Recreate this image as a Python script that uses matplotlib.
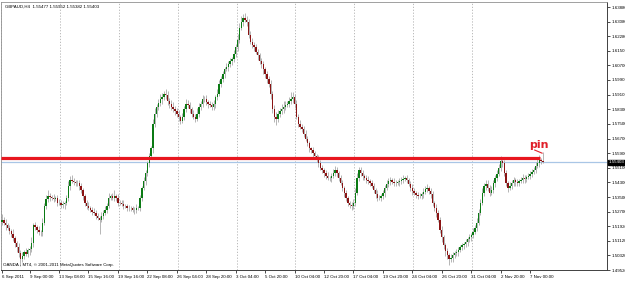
import matplotlib.pyplot as plt
import matplotlib.transforms as mtransforms
import numpy as np

plt.rcParams['font.family'] = ['Liberation Sans', 'DejaVu Sans']

# GBPAUD H4 closes, first visible bar to last
closes = [
    1.5227, 1.5210, 1.5195, 1.5180, 1.5165, 1.5150, 1.5125, 1.5100, 1.5080, 1.5045,
    1.5011, 1.5030, 1.5049, 1.5040, 1.5060, 1.5065, 1.5100, 1.5195, 1.5185, 1.5173,
    1.5157, 1.5160, 1.5211, 1.5303, 1.5340, 1.5357, 1.5350, 1.5346, 1.5340, 1.5346,
    1.5319, 1.5320, 1.5308, 1.5310, 1.5319, 1.5346, 1.5411, 1.5443, 1.5440, 1.5432,
    1.5427, 1.5425, 1.5411, 1.5389, 1.5357, 1.5319, 1.5303, 1.5292, 1.5281, 1.5270,
    1.5265, 1.5249, 1.5238, 1.5227, 1.5249, 1.5265, 1.5281, 1.5303, 1.5346, 1.5357,
    1.5346, 1.5357, 1.5346, 1.5319, 1.5320, 1.5315, 1.5303, 1.5300, 1.5292, 1.5290,
    1.5292, 1.5281, 1.5280, 1.5292, 1.5290, 1.5346, 1.5400, 1.5438, 1.5481, 1.5535,
    1.5573, 1.5616, 1.5751, 1.5805, 1.5843, 1.5865, 1.5886, 1.5897, 1.5913, 1.5908,
    1.5875, 1.5859, 1.5843, 1.5832, 1.5821, 1.5805, 1.5789, 1.5767, 1.5789, 1.5832,
    1.5859, 1.5854, 1.5832, 1.5805, 1.5789, 1.5778, 1.5805, 1.5843, 1.5859, 1.5886,
    1.5886, 1.5870, 1.5859, 1.5854, 1.5843, 1.5859, 1.5897, 1.5913, 1.5967, 1.5994,
    1.6021, 1.6048, 1.6059, 1.6075, 1.6091, 1.6102, 1.6129, 1.6167, 1.6210, 1.6275,
    1.6307, 1.6329, 1.6318, 1.6307, 1.6237, 1.6199, 1.6183, 1.6167, 1.6145, 1.6124,
    1.6091, 1.6075, 1.6048, 1.6021, 1.5994, 1.5967, 1.5913, 1.5832, 1.5789, 1.5778,
    1.5805, 1.5821, 1.5832, 1.5843, 1.5854, 1.5859, 1.5875, 1.5886, 1.5897, 1.5859,
    1.5789, 1.5751, 1.5735, 1.5724, 1.5697, 1.5670, 1.5643, 1.5616, 1.5605, 1.5589,
    1.5573, 1.5562, 1.5535, 1.5508, 1.5497, 1.5481, 1.5465, 1.5454, 1.5454, 1.5465,
    1.5481, 1.5497, 1.5481, 1.5454, 1.5427, 1.5400, 1.5373, 1.5346, 1.5319, 1.5308,
    1.5303, 1.5319, 1.5373, 1.5454, 1.5497, 1.5481, 1.5465, 1.5454, 1.5443, 1.5438,
    1.5427, 1.5411, 1.5389, 1.5367, 1.5346, 1.5346, 1.5357, 1.5373, 1.5400, 1.5421,
    1.5438, 1.5443, 1.5432, 1.5427, 1.5427, 1.5432, 1.5438, 1.5443, 1.5449, 1.5454,
    1.5443, 1.5421, 1.5400, 1.5384, 1.5373, 1.5362, 1.5357, 1.5357, 1.5367, 1.5378,
    1.5394, 1.5400, 1.5384, 1.5367, 1.5319, 1.5292, 1.5265, 1.5227, 1.5173, 1.5130,
    1.5087, 1.5055, 1.5033, 1.5011, 1.5017, 1.5033, 1.5044, 1.5049, 1.5060, 1.5076,
    1.5087, 1.5092, 1.5103, 1.5119, 1.5130, 1.5141, 1.5162, 1.5184, 1.5211, 1.5265,
    1.5319, 1.5373, 1.5411, 1.5421, 1.5400, 1.5373, 1.5389, 1.5427, 1.5454, 1.5476,
    1.5508, 1.5546, 1.5535, 1.5481, 1.5427, 1.5400, 1.5411, 1.5427, 1.5443, 1.5432,
    1.5427, 1.5438, 1.5443, 1.5454, 1.5449, 1.5459, 1.5465, 1.5476, 1.5486, 1.5497,
    1.5519, 1.5535, 1.5551, 1.55477, 1.55403,
]
first_open = 1.5215

# shadow lengths in pips above / below the body
up_wick = [
    30, 15, 20, 12, 18, 10, 25, 15, 12, 20, 15, 20, 10, 25, 12, 18, 30, 15, 20, 12,
    18, 10, 25, 15, 20, 30, 15, 12, 20, 10, 15, 20, 12, 18, 10, 15, 25, 20, 30, 15,
    12, 18, 20, 15, 10, 12, 15, 20, 10, 15, 20, 12, 15, 10, 18, 12, 20, 15, 25, 12,
    15, 30, 10, 20, 12, 15, 18, 10, 12, 15, 10, 12, 15, 20, 10, 18, 12, 20, 15, 10,
    20, 15, 25, 30, 15, 20, 25, 20, 15, 25, 20, 15, 20, 25, 18, 15, 20, 12, 20, 15,
    25, 20, 15, 12, 20, 15, 30, 20, 15, 20, 15, 20, 12, 18, 15, 20, 12, 25, 20, 15,
    20, 15, 25, 20, 18, 15, 25, 20, 30, 25, 30, 20, 25, 20, 15, 18, 20, 15, 20, 12,
    15, 20, 18, 12, 15, 20, 25, 15, 20, 25, 20, 15, 25, 30, 20, 15, 20, 40, 25, 15,
    20, 15, 18, 12, 15, 20, 12, 15, 10, 18, 15, 12, 18, 20, 15, 12, 15, 20, 12, 18,
    20, 25, 15, 12, 15, 18, 12, 15, 10, 12, 15, 20, 25, 30, 20, 15, 18, 12, 15, 20,
    12, 15, 18, 12, 20, 15, 12, 18, 15, 20, 15, 18, 12, 20, 15, 12, 18, 15, 20, 12,
    15, 12, 18, 20, 15, 12, 15, 18, 12, 20, 15, 20, 12, 18, 15, 12, 20, 15, 12, 18,
    12, 15, 18, 12, 20, 15, 12, 18, 20, 15, 15, 12, 20, 15, 18, 12, 20, 15, 25, 20,
    20, 25, 15, 20, 25, 15, 20, 18, 15, 20, 25, 30, 20, 15, 18, 12, 20, 15, 18, 12,
    15, 12, 18, 20, 15, 12, 18, 15, 20, 15, 20, 25, 30, 15, 48,
]
low_wick = [
    20, 15, 25, 12, 18, 20, 15, 25, 30, 20, 35, 15, 20, 12, 18, 25, 15, 20, 12, 18,
    15, 20, 25, 12, 18, 15, 20, 12, 15, 10, 18, 12, 20, 15, 25, 12, 15, 20, 12, 18,
    15, 12, 20, 18, 25, 15, 20, 12, 15, 20, 15, 20, 12, 80, 15, 18, 12, 20, 15, 12,
    12, 18, 15, 20, 12, 15, 18, 12, 20, 15, 15, 12, 20, 15, 12, 18, 15, 12, 20, 15,
    20, 15, 25, 20, 15, 18, 20, 25, 15, 20, 20, 25, 15, 18, 20, 15, 25, 20, 15, 18,
    15, 20, 25, 18, 15, 20, 15, 18, 20, 15, 18, 15, 20, 12, 15, 18, 20, 15, 12, 18,
    15, 20, 12, 18, 15, 20, 15, 12, 18, 20, 15, 20, 12, 25, 20, 15, 18, 20, 15, 25,
    15, 20, 25, 18, 20, 15, 25, 20, 30, 35, 20, 15, 18, 20, 15, 12, 18, 15, 20, 25,
    15, 20, 12, 18, 20, 15, 12, 18, 15, 20, 15, 20, 18, 12, 15, 20, 18, 12, 15, 20,
    12, 15, 20, 18, 12, 15, 20, 18, 15, 20, 25, 20, 15, 12, 18, 15, 20, 12, 15, 18,
    15, 12, 18, 20, 15, 12, 18, 15, 20, 12, 15, 20, 12, 18, 15, 12, 20, 15, 18, 12,
    15, 12, 18, 20, 12, 15, 18, 12, 15, 20, 12, 15, 18, 20, 15, 20, 25, 15, 20, 25,
    20, 25, 20, 30, 15, 20, 18, 15, 20, 12, 15, 18, 12, 20, 15, 18, 12, 15, 20, 15,
    15, 12, 18, 20, 15, 18, 12, 15, 20, 15, 12, 15, 20, 18, 15, 20, 12, 18, 15, 20,
    15, 18, 12, 15, 20, 15, 12, 18, 15, 12, 15, 12, 18, 15, 2,
]

date_pos = [0, 15, 31, 47, 63, 79, 95, 111, 127, 143, 159, 175, 191, 207, 223, 239, 255, 271, 287]
date_labels = ['6 Sep 2011', '9 Sep 00:00', '13 Sep 08:00', '15 Sep 16:00', '19 Sep 16:00',
               '22 Sep 08:00', '26 Sep 04:00', '28 Sep 20:00', '3 Oct 04:00', '5 Oct 20:00',
               '10 Oct 04:00', '12 Oct 20:00', '17 Oct 04:00', '19 Oct 20:00', '24 Oct 04:00',
               '26 Oct 20:00', '31 Oct 04:00', '2 Nov 20:00', '7 Nov 00:00']
price_ticks = [1.6388, 1.6308, 1.6228, 1.6150, 1.6070, 1.5990, 1.5910, 1.5830, 1.5750,
               1.5670, 1.5590, 1.5510, 1.5430, 1.5350, 1.5270, 1.5192, 1.5112, 1.5032, 1.4952]
week_sep = [-1, 31, 63, 95, 127, 159, 191, 223, 255]
level = 1.5562
bid = 1.55403
header = 'GBPAUD,H4  1.55477 1.55952 1.55382 1.55403'

closes = np.array(closes)
opens = np.r_[first_open, closes[:-1]]
highs = np.maximum(opens, closes) + np.array(up_wick) * 1e-4
lows = np.minimum(opens, closes) - np.array(low_wick) * 1e-4
x = np.arange(len(closes))

fig = plt.figure(figsize=(6.25, 2.82), dpi=100)
ax = fig.add_axes([1 / 625, 12 / 282, 606 / 625, 268 / 282])
ax.set_xlim(-0.55, 328.8)
ax.set_ylim(1.49682, 1.64154)

for s in week_sep:
    ax.axvline(s + 0.5, color='#b0b0b0', lw=0.6, ls=(0, (1.5, 2)), zorder=0)

ax.axhline(bid, color='#a9c6e6', lw=0.9, zorder=1)

ax.vlines(x, lows, highs, color='#aaaaaa', lw=0.6, zorder=2)
body = np.maximum(np.abs(closes - opens), 0.00012)
up = closes >= opens
ax.bar(x[up], body[up], bottom=opens[up], width=0.75, color='#0b7a14', lw=0, zorder=3)
ax.bar(x[~up], body[~up], bottom=closes[~up], width=0.75, color='#8a1414', lw=0, zorder=3)

ax.hlines(level, -0.55, 292.5, color='#e8161f', lw=2.3, zorder=4)
ax.text(292, 1.5632, 'pin', color='#e0202a', fontsize=8, fontweight='bold', ha='center',
        va='center', family='DejaVu Sans')
ax.plot([289.5, 293.5], [1.5607, 1.5590], color='#e0202a', lw=0.8)

fs = 3.2
ax.text(0.006, 0.99, header, transform=ax.transAxes, fontsize=fs, va='top', ha='left')
ax.text(0.004, 0.012, 'OANDA - MT4, \u00a9 2001-2011 MetaQuotes Software Corp.',
        transform=ax.transAxes, fontsize=fs, va='bottom', ha='left')

ax.yaxis.tick_right()
ax.set_yticks(price_ticks)
ax.set_yticklabels(['%.5f' % p for p in price_ticks])
ax.tick_params(axis='y', labelsize=fs, length=2, width=0.5, pad=1.0)
ax.set_xticks(date_pos)
ax.set_xticklabels(date_labels)
ax.tick_params(axis='x', labelsize=fs, length=2, width=0.5, pad=1.5)
for lab in ax.get_xticklabels():
    lab.set_ha('left')

trans = mtransforms.blended_transform_factory(ax.transAxes, ax.transData)
ax.text(1.003, bid, '1.55403', transform=trans, fontsize=fs, color='white', va='center', ha='left',
        bbox=dict(boxstyle='square,pad=0.12', fc='black', ec='black'))

for side in ['left', 'top']:
    ax.spines[side].set_color('#909090')
    ax.spines[side].set_linewidth(0.6)
for side in ['right', 'bottom']:
    ax.spines[side].set_color('#404040')
    ax.spines[side].set_linewidth(0.7)

fig.savefig('out.png', dpi=100)
